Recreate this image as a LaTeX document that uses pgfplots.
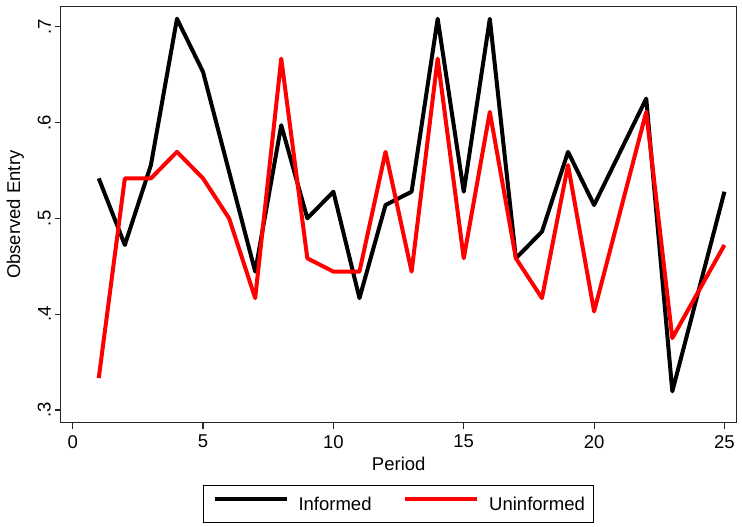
\documentclass[border=0pt]{standalone}
\usepackage{pgfplots}
\pgfplotsset{compat=1.18}
\usepackage{fontspec}
\setmainfont{Liberation Sans}
\begin{document}
\begin{tikzpicture}
\begin{axis}[
  scale only axis,
  width=676pt, height=416pt,
  at={(0pt,0pt)}, anchor=south west,
  xmin=-0.46, xmax=25.47,
  ymin=0.2867, ymax=0.7209,
  axis line style={line width=1.4pt, black!85},
  tick align=outside,
  major tick length=6pt,
  tick style={line width=1.2pt, black!85},
  xtick={0,5,10,15,20,25},
  xticklabels={0,5,10,15,20,25},
  ytick={0.3,0.4,0.5,0.6,0.7},
  yticklabels={.3,.4,.5,.6,.7},
  xtick pos=bottom, ytick pos=left,
  font=\fontsize{18.5pt}{22pt}\selectfont,
  tick label style={font=\fontsize{18.5pt}{22pt}\selectfont},
  xticklabel style={anchor=north, inner sep=0pt, yshift=-6.3pt},
  yticklabel style={inner sep=0pt, rotate=90, anchor=south, yshift=3.7pt},
  xlabel={Period},
  ylabel={Observed Entry},
  xlabel style={at={(axis description cs:0.5,-0.1142)}, anchor=base, inner sep=0pt},
  ylabel style={at={(axis description cs:-0.0599,0.5)}, anchor=base, inner sep=0pt, rotate=0},
  legend columns=2,
  legend style={
    at={(axis description cs:0.5,-0.1954)}, anchor=center,
    draw=black, line width=1pt,
    inner xsep=9pt, inner ysep=11.5pt,
    nodes={inner sep=0pt, text height=13.3pt, text depth=0pt},
    font=\fontsize{18.5pt}{22pt}\selectfont,
    /tikz/every odd column/.append style={column sep=10pt},
    /tikz/every even column/.append style={column sep=31.7pt},
  },
  legend image code/.code={\draw[#1, line width=4pt] (0pt,4.5pt) -- (72pt,4.5pt);},
]
\addplot[black, line width=4pt, line join=round] coordinates {
(1,0.5417) (2,0.4722) (3,0.5556) (4,0.7083) (5,0.6528) (6,0.5486) (7,0.4444)
(8,0.5972) (9,0.5000) (10,0.5278) (11,0.4167) (12,0.5139) (13,0.5278) (14,0.7083)
(15,0.5278) (16,0.7083) (17,0.4583) (18,0.4861) (19,0.5694) (20,0.5139) (21,0.5694)
(22,0.6250) (23,0.3194) (24,0.4236) (25,0.5278)
};
\addlegendentry{Informed}
\addplot[red, line width=4pt, line join=round] coordinates {
(1,0.3333) (2,0.5417) (3,0.5417) (4,0.5694) (5,0.5417) (6,0.5000) (7,0.4167)
(8,0.6667) (9,0.4583) (10,0.4444) (11,0.4444) (12,0.5694) (13,0.4444) (14,0.6667)
(15,0.4583) (16,0.6111) (17,0.4583) (18,0.4167) (19,0.5556) (20,0.4028) (21,0.5069)
(22,0.6111) (23,0.3750) (24,0.4236) (25,0.4722)
};
\addlegendentry{Uninformed}
\end{axis}
\pgfresetboundingbox
\useasboundingbox (-60.7pt,-104.3pt) rectangle (681.3pt,422.7pt);
\end{tikzpicture}
\end{document}
